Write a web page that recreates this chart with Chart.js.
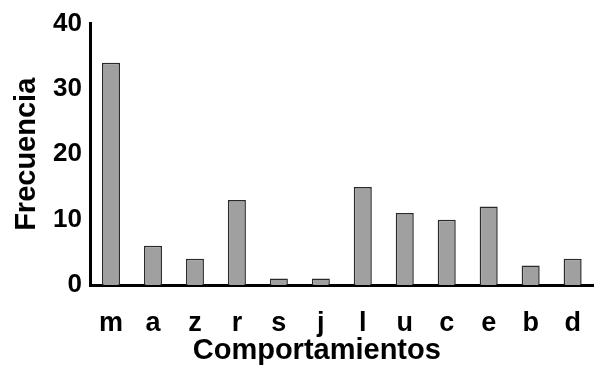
<html>
<head>
  <script src="https://cdn.jsdelivr.net/npm/chart.js@4.4.0/dist/chart.umd.min.js"></script>
  <style>
    body { margin: 0; background: #fff; }
    #chart-container { width: 603px; height: 369px; }
  </style>
</head>
<body>
  <div id="chart-container">
    <canvas id="chart"></canvas>
  </div>
  <script>
    // categories and values
    var categorias = ["m", "a", "z", "r", "s", "j", "l", "u", "c", "e", "b", "d"];
    var frecuencia = [34, 6, 4, 13, 1, 1, 15, 11, 10, 12, 3, 4];
    var yTicks = [0, 10, 20, 30, 40];

    var fam = "'Liberation Sans', Arial, sans-serif";

    // x axis title drawn a bit left of the axis centre, like the original
    var xTitle = {
      id: "xTitle",
      afterDraw: function(chart) {
        var ctx = chart.ctx;
        var area = chart.chartArea;
        ctx.save();
        ctx.font = "bold 29px " + fam;
        ctx.fillStyle = "#000";
        ctx.textAlign = "center";
        ctx.textBaseline = "middle";
        ctx.fillText("Comportamientos", (area.left + area.right) / 2 - 25, chart.height - 18);
        ctx.restore();
      }
    };

    var ctx = document.getElementById("chart").getContext("2d");
    var chart = new Chart(ctx, {
      type: "bar",
      data: {
        labels: categorias,
        datasets: [{
          label: "Frecuencia",
          data: frecuencia,
          backgroundColor: "#a0a0a0",
          borderColor: "#2a2a2a",
          borderWidth: 1.5,
          categoryPercentage: 1,
          barPercentage: 0.43
        }]
      },
      options: {
        responsive: true,
        maintainAspectRatio: false,
        animation: false,
        layout: { padding: { left: 0, right: 3, top: 3, bottom: 0 } },
        plugins: {
          legend: { display: false },
          tooltip: { enabled: false }
        },
        scales: {
          x: {
            grid: { display: false, drawTicks: false },
            border: { display: true, color: "#000", width: 3 },
            ticks: {
              color: "#000",
              padding: 22,
              font: { family: fam, size: 27, weight: "bold" }
            },
            afterFit: function(scale) { scale.height = 84; }
          },
          y: {
            min: 0,
            max: 40,
            grid: { display: false, drawTicks: false },
            border: { display: true, color: "#000", width: 3 },
            afterBuildTicks: function(scale) {
              scale.ticks = yTicks.map(function(v) { return { value: v }; });
            },
            ticks: {
              color: "#000",
              padding: 8,
              font: { family: fam, size: 26, weight: "bold" }
            },
            title: {
              display: true,
              text: "Frecuencia",
              color: "#000",
              padding: { top: 10, bottom: 0 },
              font: { family: fam, size: 29, weight: "bold" }
            },
            afterFit: function(scale) { scale.width = 90; }
          }
        }
      },
      plugins: [xTitle]
    });
  </script>
</body>
</html>
